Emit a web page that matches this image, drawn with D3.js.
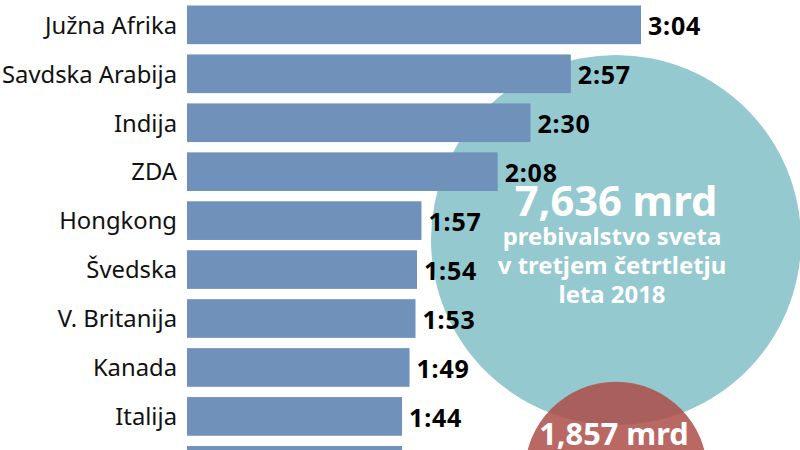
<!DOCTYPE html>
<html><head><meta charset="utf-8">
<script src="https://cdn.jsdelivr.net/npm/d3@7"></script>
<style>html,body{margin:0;padding:0;background:#fff;overflow:hidden}svg{display:block}text{font-family:"Noto Sans",sans-serif}</style>
</head><body><svg id="c" width="800" height="450"></svg>
<script>
const categories=["Južna Afrika","Savdska Arabija","Indija","ZDA","Hongkong","Švedska","V. Britanija","Kanada","Italija",""];
const timeLabels=["3:04","2:57","2:30","2:08","1:57","1:54","1:53","1:49","1:44",""];
const barValues=[3.04,2.57,2.30,2.08,1.57,1.54,1.53,1.49,1.44,1.44];
const populationValues=[7.636,1.857];
const populationLabels=["7,636 mrd","1,857 mrd"];
const worldLines=["prebivalstvo sveta","v tretjem četrtletju","leta 2018"];

const svg=d3.select("#c");
const x=d3.scaleLinear().domain([0,3.04]).range([187,641]);
const y=d3.scaleBand().domain(categories).range([5.5,484.7]).paddingInner(0.21).paddingOuter(0);
const r=d3.scaleSqrt().domain([0,7.636]).range([0,185]);

const circleColors=["#94c9d0","#ad4d48"];
const circleOpacity=[1,0.85];
const cx=616, cy=[240,473];
svg.selectAll("circle").data(populationValues).join("circle")
 .attr("cx",cx).attr("cy",(d,i)=>cy[i]).attr("r",d=>r(d))
 .attr("fill",(d,i)=>circleColors[i]).attr("fill-opacity",(d,i)=>circleOpacity[i]);

svg.selectAll("rect.bar").data(barValues).join("rect").attr("class","bar")
 .attr("x",x(0)).attr("y",(d,i)=>y(categories[i])).attr("height",y.bandwidth())
 .attr("width",d=>x(d)-x(0)).attr("fill","#6f91ba");

const axis=d3.axisLeft(y).tickSize(0).tickPadding(10);
const g=svg.append("g").attr("transform",`translate(${x(0)},0)`).call(axis);
g.select(".domain").remove();
g.selectAll("text").attr("font-size",23.8).attr("fill","#111").style("font-family",'"Noto Sans",sans-serif').attr("dy","0.37em");

svg.selectAll("text.val").data(barValues).join("text").attr("class","val")
 .attr("x",d=>x(d)+7).attr("y",(d,i)=>y(categories[i])+y.bandwidth()/2+10.5)
 .attr("font-size",25).attr("font-weight",700).attr("letter-spacing",0.8).attr("fill","#000")
 .text((d,i)=>timeLabels[i]);

svg.append("text").attr("x",616).attr("y",216).attr("text-anchor","middle")
 .attr("font-size",41.6).attr("font-weight",700).attr("fill","#fff").text(populationLabels[0]);
svg.selectAll("text.w").data(worldLines).join("text").attr("class","w")
 .attr("x",612).attr("y",(d,i)=>245+i*29).attr("text-anchor","middle")
 .attr("font-size",23.9).attr("font-weight",700).attr("fill","#fff").text(d=>d);
svg.append("text").attr("x",614).attr("y",445).attr("text-anchor","middle")
 .attr("font-size",30.7).attr("font-weight",700).attr("fill","#fff").text(populationLabels[1]);
</script></body></html>
